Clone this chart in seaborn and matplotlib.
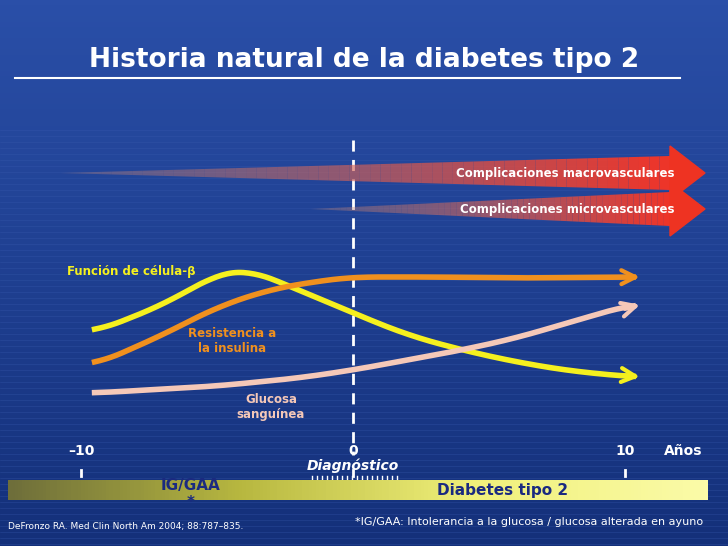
import numpy as np
import pandas as pd
import matplotlib
matplotlib.use("Agg")
import matplotlib.pyplot as plt
import seaborn as sns
from matplotlib.patches import Polygon
from matplotlib.colors import LinearSegmentedColormap

# Data (x = years relative to diagnosis, y = relative level, screen units, larger = lower)
beta_x = [-9.5, -7, -5, -4, -3.5, -2, 0, 2, 4, 6, 8, 10.3]
beta_y = [332, 305, 274, 269, 273, 290, 313, 335, 350, 362, 371, 377]
ins_x = [-9.5, -7, -5, -3, -1, 0, 3, 6, 10.3]
ins_y = [365, 335, 307, 289, 280, 277, 277, 278, 277]
glu_x = [-9.5, -5, -2, 0, 2, 4, 6, 8, 10.3]
glu_y = [393, 386, 378, 370, 360, 350, 338, 322, 304]
tick_vals = [-10, 0, 10]
tick_labels = ["\u201310", "0", "10"]

PX = 27.2
def xp(px): return (px - 353) / PX

fig = plt.figure(figsize=(7.28, 5.46), dpi=100)
ax = fig.add_axes([0, 0, 1, 1])
ax.set_xlim(xp(0), xp(728)); ax.set_ylim(546, 0); ax.axis("off")

bg = LinearSegmentedColormap.from_list("bg", ["#2a4fa8", "#14307a"])
ax.imshow(np.linspace(0, 1, 100).reshape(-1, 1), cmap=bg, aspect="auto",
          extent=[xp(0), xp(728), 546, 0], zorder=0)
for yy in range(130, 546, 6):
    ax.plot([xp(0), xp(728)], [yy, yy], color="#3a5cb0", lw=0.4, alpha=0.5, zorder=0.5)

ax.text(xp(364), 60, "Historia natural de la diabetes tipo 2", color="white",
        fontsize=19, fontweight="bold", ha="center", va="center")
ax.plot([xp(15), xp(680)], [78, 78], color="white", lw=1.5)

def wedge(x0, x1, ymid, h, label, ly):
    n = 60
    xs = np.linspace(x0, x1, n)
    for i in range(n - 1):
        t = i / (n - 1)
        t2 = (i + 1) / (n - 1)
        c = (0.75 + 0.2 * t, 0.55 - 0.35 * t, 0.5 - 0.35 * t)
        poly = Polygon([[xp(xs[i]), ymid - h * t], [xp(xs[i + 1]), ymid - h * t2],
                        [xp(xs[i + 1]), ymid + h * t2], [xp(xs[i]), ymid + h * t]],
                       color=c, alpha=0.3 + 0.7 * t, lw=0, zorder=2)
        ax.add_patch(poly)
    ax.add_patch(Polygon([[xp(x1), ymid - h - 10], [xp(x1 + 35), ymid], [xp(x1), ymid + h + 10]],
                         color="#ee3322", zorder=2))
    ax.text(xp(x1 + 4), ly, label, color="white", fontsize=8.5, fontweight="bold",
            ha="right", va="center", zorder=3)

wedge(60, 670, 173, 17, "Complicaciones macrovasculares", 173)
wedge(310, 670, 209, 17, "Complicaciones microvasculares", 209)

ax.plot([0, 0], [140, 455], color="white", lw=2, ls=(0, (4, 3)), zorder=1)

df = pd.concat([
    pd.DataFrame({"x": beta_x, "y": beta_y, "s": "beta"}),
    pd.DataFrame({"x": ins_x, "y": ins_y, "s": "ins"}),
    pd.DataFrame({"x": glu_x, "y": glu_y, "s": "glu"}),
])
cols = {"beta": "#f5f01e", "ins": "#f0901e", "glu": "#f5c8b8"}
for s, c in cols.items():
    d = df[df.s == s]
    xs = np.linspace(d.x.min(), d.x.max(), 200)
    ys = np.interp(xs, d.x, d.y)
    ys = np.convolve(np.pad(ys, 10, mode="edge"), np.ones(21) / 21, mode="valid")
    sns.lineplot(x=xs, y=ys, color=c, lw=4, ax=ax, zorder=4, sort=False)
    ax.annotate("", xy=(d.x.iloc[-1] + 0.35, d.y.iloc[-1]), xytext=(d.x.iloc[-1] - 0.4, ys[-8]),
                arrowprops=dict(arrowstyle="->", color=c, lw=3, mutation_scale=25), zorder=4)

ax.text(xp(67), 272, "Funci\u00f3n de c\u00e9lula-\u03b2", color="#f5f01e", fontsize=8.5, fontweight="bold", va="center")
ax.text(xp(232), 341, "Resistencia a\nla insulina", color="#f0901e", fontsize=8.5, fontweight="bold", ha="center", va="center")
ax.text(xp(271), 407, "Glucosa\nsangu\u00ednea", color="#f5c8b8", fontsize=8.5, fontweight="bold", ha="center", va="center")

for v, l in zip(tick_vals, tick_labels):
    ax.text(v, 451, l, color="white", fontsize=10, fontweight="bold", ha="center", va="center")
    ax.plot([v, v], [470, 476], color="white", lw=2)
ax.text(xp(683), 451, "A\u00f1os", color="white", fontsize=10, fontweight="bold", ha="center", va="center")
ax.text(0, 466, "Diagn\u00f3stico", color="white", fontsize=10, fontweight="bold", style="italic", ha="center", va="center")
for px in range(312, 400, 5):
    ax.plot([xp(px), xp(px)], [476, 482], color="white", lw=1)

gb = LinearSegmentedColormap.from_list("gb", ["#6e6e3a", "#b8b840", "#f0f07a", "#fbfba8"])
ax.imshow(np.linspace(0, 1, 200).reshape(1, -1), cmap=gb, aspect="auto",
          extent=[xp(8), xp(708), 500, 480], zorder=2)
ax.text(xp(191), 494, "IG/GAA\n*", color="#1a2a80", fontsize=11, fontweight="bold", ha="center", va="center", zorder=3)
ax.text(xp(503), 490, "Diabetes tipo 2", color="#1a2a80", fontsize=11, fontweight="bold", ha="center", va="center", zorder=3)
ax.text(xp(8), 527, "DeFronzo RA. Med Clin North Am 2004; 88:787\u2013835.", color="white", fontsize=6.5, va="center")
ax.text(xp(703), 522, "*IG/GAA: Intolerancia a la glucosa / glucosa alterada en ayuno", color="white", fontsize=8, ha="right", va="center")

fig.savefig("out.png", dpi=100)
